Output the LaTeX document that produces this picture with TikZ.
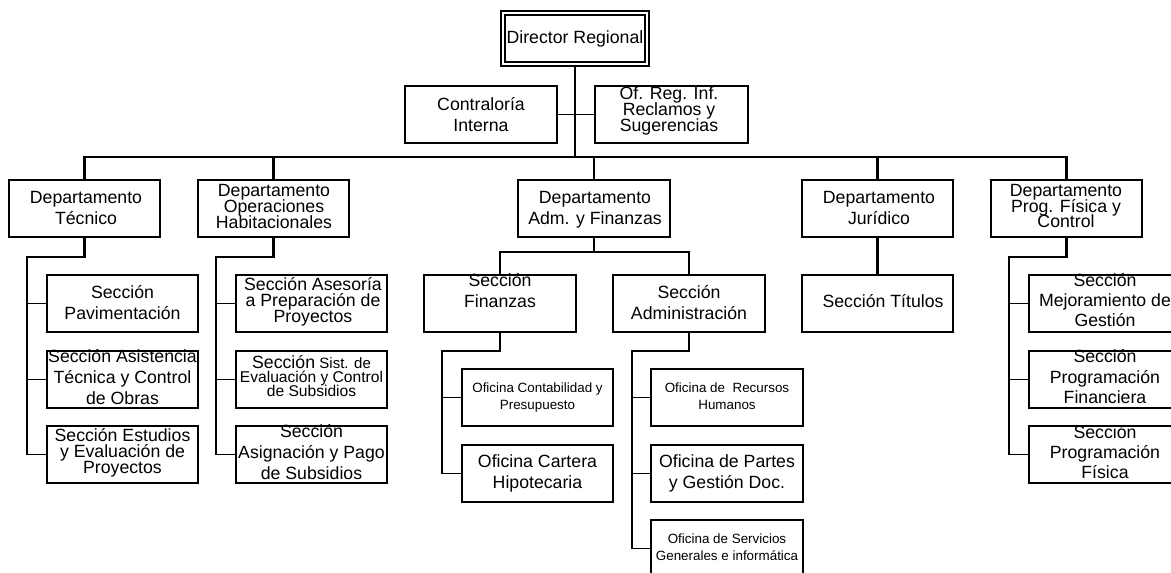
\documentclass[tikz,border=0pt]{standalone}
\usepackage{fontspec}
\setmainfont{Liberation Sans}
\newcommand{\fsz}[2]{\fontsize{#1}{#2}\selectfont\lineskiplimit=-100pt\relax}
\begin{document}
\begin{tikzpicture}[x=1pt,y=-1pt,
  box/.style={draw, line width=1.6pt, minimum width=151pt, minimum height=57pt, inner sep=0pt},
  txt/.style={align=center, anchor=base, inner sep=0pt},
  big/.style={font=\fsz{17.7}{#1}},
  small/.style={font=\fsz{13.4}{#1}},
  conn/.style={line width=2.2pt},
  stub/.style={line width=1.3pt}]
\useasboundingbox (0,0) rectangle (1171,573);
\fill[white] (0,0) rectangle (1171,573);
% boxes
\node[draw, double, double distance=2pt, line width=2pt, minimum width=144pt, minimum height=50.7pt, inner sep=0pt] (dir) at (575,38.3) {};
\node[box, minimum width=152pt] (ci) at (481,114.5) {};
\node[box, minimum width=153pt] (of) at (671.5,114.5) {};
\node[box] (dtec) at (84.5,208.5) {};
\node[box] (dops) at (273.5,208.5) {};
\node[box, minimum width=152pt] (dadm) at (594,208.5) {};
\node[box] (djur) at (877.5,208.5) {};
\node[box] (dprog) at (1066.5,208.5) {};
\node[box] (t1) at (122.5,303.5) {};
\node[box] (t2) at (122.5,379.5) {};
\node[box] (t3) at (122.5,454.5) {};
\node[box] (o1) at (311.5,303.5) {};
\node[box] (o2) at (311.5,379.5) {};
\node[box] (o3) at (311.5,454.5) {};
\node[box, minimum width=152pt] (sf) at (500,303.5) {};
\node[box, minimum width=152pt] (sa) at (689,303.5) {};
\node[box] (f1) at (537.5,397.5) {};
\node[box] (f2) at (537.5,473.5) {};
\node[box, minimum width=152pt] (a1) at (727,397.5) {};
\node[box, minimum width=152pt] (a2) at (727,473.5) {};
\node[box, minimum width=152pt] (a3) at (727,548.5) {};
\node[box] (tit) at (877.5,303.5) {};
\node[box] (p1) at (1104.5,303.5) {};
\node[box] (p2) at (1104.5,379.5) {};
\node[box] (p3) at (1104.5,454.5) {};
% texts (anchor = baseline of the last line)
\node[txt, big=21] (xdir) at (575,43) {Director Regional};
\node[txt, big=21] (xci) at (481,131) {Contraloría\\Interna};
\node[txt, big=16] (xof) at (669,131) {Of. Reg. Inf.\\Reclamos y\\Sugerencias};
\node[txt, big=21] (xdtec) at (86,224) {Departamento\\Técnico};
\node[txt, big=16] (xdops) at (274,228.7) {Departamento\\Operaciones\\Habitacionales};
\node[txt, big=21] (xdadm) at (595,224) {Departamento\\Adm. y Finanzas};
\node[txt, big=21] (xdjur) at (879,224) {Departamento\\Jurídico};
\node[txt, big=15.5] (xdprog) at (1066,227.7) {Departamento\\Prog. Física y\\Control};
\node[txt, big=21] (xt1) at (122.5,319.3) {Sección\\Pavimentación};
\node[txt, big=20.8] (xt2) at (122.5,404.3) {Sección Asistencia\\Técnica y Control\\de Obras};
\node[txt, big=15.8] (xt3) at (122.5,473.3) {Sección Estudios\\y Evaluación de\\Proyectos};
\node[txt, big=16] (xo1) at (313,322.7) {Sección Asesoría\\a Preparación de\\Proyectos};
\node[txt, font=\fsz{15.6}{14.2}] (xo2) at (311.5,396.7) {{\fsz{17.7}{14.2}Sección} {\fsz{15}{14.2}Sist. de}\\Evaluación y Control\\de Subsidios};
\node[txt, big=21] (xo3) at (311.5,479.7) {Sección\\Asignación y Pago\\de Subsidios};
\node[txt, big=21] (xsf) at (500,307.7) {Sección\\Finanzas};
\node[txt, big=21] (xsa) at (689,319.3) {Sección\\Administración};
\node[txt, small=16.6] (xf1) at (537.5,409.3) {Oficina Contabilidad y\\Presupuesto};
\node[txt, big=21] (xf2) at (537.5,488.3) {Oficina Cartera\\Hipotecaria};
\node[txt, small=16.6] (xa1) at (727,409.3) {Oficina de \ Recursos\\Humanos};
\node[txt, big=21] (xa2) at (727,488.3) {Oficina de Partes\\y Gestión Doc.};
\node[txt, small=16.7] (xa3) at (727,560) {Oficina de Servicios\\Generales e informática};
\node[txt, big=21] (xtit) at (883,307.7) {Sección Títulos};
\node[txt, big=20] (xp1) at (1105,326.7) {Sección\\Mejoramiento de\\Gestión};
\node[txt, big=20.3] (xp2) at (1105,403.3) {Sección\\Programación\\Financiera};
\node[txt, big=20] (xp3) at (1105,478.3) {Sección\\Programación\\Física};
% connectors
\coordinate (bus) at (0,157);
\draw[line width=2.6pt] (dir.south) -- (dir.south |- bus);
\draw[line width=1.5pt] (ci.east) -- (of.west);
\draw[conn] (dtec.north) -- (dtec.north |- bus) -- (dprog.north |- bus) -- (dprog.north);
\foreach \d in {dops,dadm,djur} \draw[conn] (\d.north) -- (\d.north |- bus);
\draw[conn] (dadm.south) -- ++(0,14) coordinate (am);
\draw[conn] (sf.north) |- (am) -| (sa.north);
\draw[conn] (djur.south) -- (tit.north);
\draw[conn] (dtec.south) -- ++(0,19) -| ([xshift=-19pt]t3.west);
\draw[conn] (dops.south) -- ++(0,19) -| ([xshift=-19pt]o3.west);
\draw[conn] (sf.south) -- ++(0,18) -| ([xshift=-19pt]f2.west);
\draw[conn] (sa.south) -- ++(0,18) -| ([xshift=-18pt]a3.west);
\draw[conn] (dprog.south) -- ++(0,19) -| ([xshift=-19pt]p3.west);
\foreach \n in {t1,t2,t3,o1,o2,o3,f1,f2,p1,p2,p3} \draw[stub] (\n.west) -- ++(-19,0);
\foreach \n in {a1,a2,a3} \draw[stub] (\n.west) -- ++(-18,0);
\end{tikzpicture}
\end{document}
